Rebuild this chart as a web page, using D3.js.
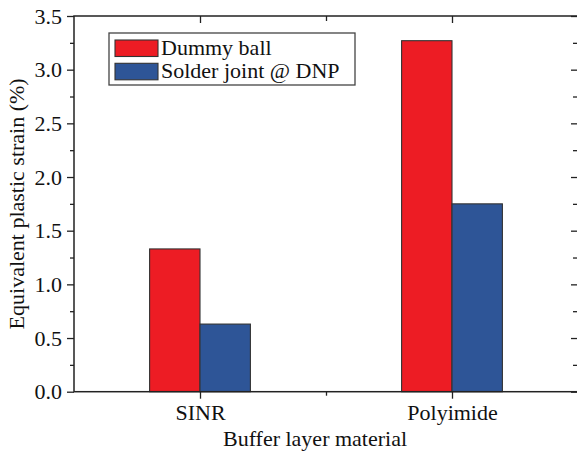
<!DOCTYPE html>
<html>
<head>
<meta charset="utf-8">
<script src="https://cdn.jsdelivr.net/npm/d3@7"></script>
<style>
  html, body { margin: 0; padding: 0; background: #fff; }
  svg { display: block; }
  text { font-family: "Liberation Serif", "Times New Roman", serif; fill: #111; }
</style>
</head>
<body>
<svg id="chart" width="577" height="452"></svg>
<script>
// ---- data ----
const categories = ["SINR", "Polyimide"];
const seriesNames = ["Dummy ball", "Solder joint @ DNP"];
const dummyBall = [1.33, 3.27];
const solderJoint = [0.63, 1.75];
const yTicks = [0.0, 0.5, 1.0, 1.5, 2.0, 2.5, 3.0, 3.5];
const yLabel = "Equivalent plastic strain (%)";
const xLabel = "Buffer layer material";
const colors = ["#ED1C24", "#2E5597"];

// ---- layout ----
const svg = d3.select("#chart");
const L = 74, R = 578, T = 16, B = 391.7;
const fs = 22;

const x = d3.scaleLinear().domain([0.5, 2.5]).range([L, R]);
const y = d3.scaleLinear().domain([0, 3.5]).range([B, T]);
const barW = 0.2;

const series = [dummyBall, solderJoint];

// bars
series.forEach((vals, si) => {
  svg.append("g").selectAll("rect")
    .data(vals)
    .join("rect")
    .attr("x", (d, i) => si === 0 ? x(i + 1 - barW) : x(i + 1))
    .attr("width", x(1 + barW) - x(1))
    .attr("y", d => y(d))
    .attr("height", d => y(0) - y(d))
    .attr("fill", colors[si])
    .attr("stroke", "#333")
    .attr("stroke-width", 1.1);
});

const axisStroke = "#222";
const axisW = 1.5;
const minorY = d3.range(0.25, 3.5, 0.5);

function styleAxis(g) {
  g.attr("font-family", null);
  g.select(".domain").remove();
  g.selectAll(".tick line").attr("stroke", axisStroke).attr("stroke-width", 1.3);
  g.selectAll("text").style("font-family", "'Liberation Serif', 'Times New Roman', serif").style("font-size", fs + "px").attr("fill", "#111");
}

// left axis
svg.append("g").attr("transform", `translate(${L},0)`)
  .call(d3.axisLeft(y).tickValues(yTicks).tickFormat(d3.format(".1f")).tickSize(7).tickPadding(5))
  .call(styleAxis);
svg.append("g").attr("transform", `translate(${L},0)`)
  .call(d3.axisLeft(y).tickValues(minorY).tickFormat("").tickSize(4))
  .call(styleAxis);

// right axis (inward)
svg.append("g").attr("transform", `translate(${R},0)`)
  .call(d3.axisLeft(y).tickValues(yTicks).tickFormat("").tickSize(7))
  .call(styleAxis);
svg.append("g").attr("transform", `translate(${R},0)`)
  .call(d3.axisLeft(y).tickValues(minorY).tickFormat("").tickSize(5))
  .call(styleAxis);

// bottom axis
svg.append("g").attr("transform", `translate(0,${B})`)
  .call(d3.axisBottom(x).tickValues([1, 2]).tickFormat((d, i) => categories[i]).tickSize(7).tickPadding(6))
  .call(styleAxis);
svg.append("g").attr("transform", `translate(0,${B})`)
  .call(d3.axisBottom(x).tickValues([1.5]).tickFormat("").tickSize(4))
  .call(styleAxis);

// top axis (inward)
svg.append("g").attr("transform", `translate(0,${T})`)
  .call(d3.axisBottom(x).tickValues([1, 2]).tickFormat("").tickSize(7))
  .call(styleAxis);
svg.append("g").attr("transform", `translate(0,${T})`)
  .call(d3.axisBottom(x).tickValues([1.5]).tickFormat("").tickSize(5))
  .call(styleAxis);

// frame
svg.append("rect")
  .attr("x", L).attr("y", T)
  .attr("width", R - L).attr("height", B - T)
  .attr("fill", "none").attr("stroke", axisStroke).attr("stroke-width", axisW);

// axis titles
svg.append("text")
  .attr("x", 315).attr("y", 446)
  .attr("text-anchor", "middle")
  .style("font-size", fs + "px")
  .text(xLabel);

svg.append("text")
  .attr("transform", `translate(23.5,${(T + B) / 2}) rotate(-90)`)
  .attr("text-anchor", "middle")
  .style("font-size", fs + "px")
  .text(yLabel);

// legend
const lg = svg.append("g");
lg.append("rect")
  .attr("x", 109).attr("y", 33).attr("width", 246).attr("height", 52)
  .attr("fill", "#fff").attr("stroke", "#444").attr("stroke-width", 1.3);
seriesNames.forEach((name, i) => {
  const yy = 40 + i * 23.3;
  lg.append("rect")
    .attr("x", 115).attr("y", yy).attr("width", 43).attr("height", 16.5)
    .attr("fill", colors[i]).attr("stroke", "#333").attr("stroke-width", 1.1);
  lg.append("text")
    .attr("x", 161).attr("y", yy + 14.5)
    .style("font-size", fs + "px")
    .text(name);
});
</script>
</body>
</html>
